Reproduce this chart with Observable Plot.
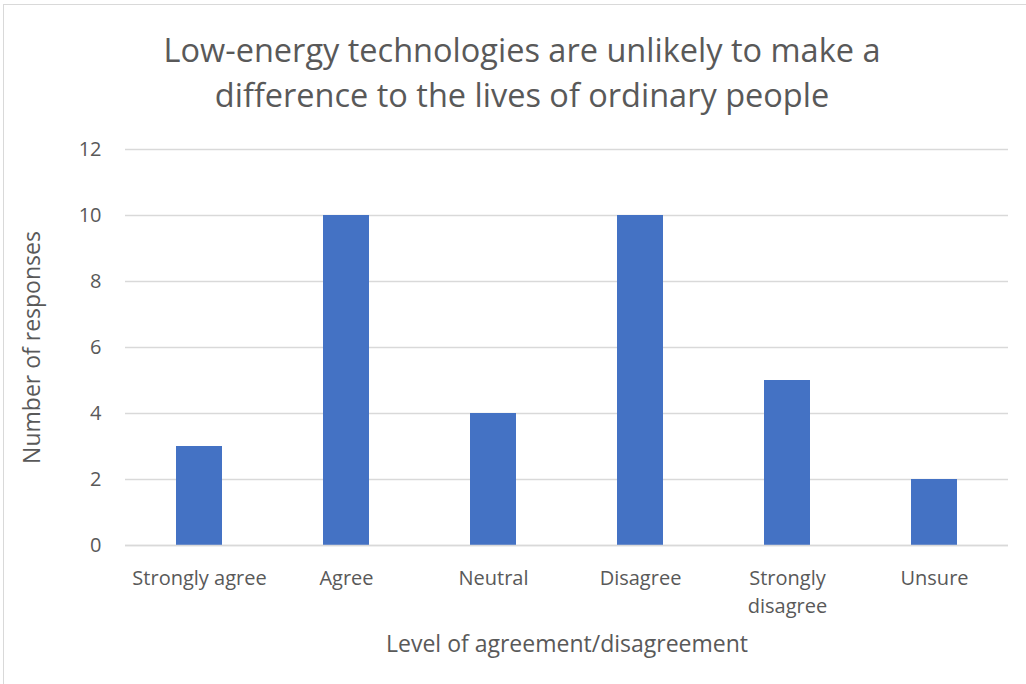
<!DOCTYPE html>
<html><head><meta charset="utf-8">
<script src="https://cdn.jsdelivr.net/npm/d3@7"></script>
<script src="https://cdn.jsdelivr.net/npm/@observablehq/plot@0.6"></script>
<style>
body{margin:0;background:#fff;font-family:"Open Sans",sans-serif;}
#wrap{position:relative;width:1026px;height:684px;overflow:hidden;}
#frame{position:absolute;left:3px;top:4px;width:1100px;height:800px;border:1.5px solid #d9d9d9;box-sizing:border-box;}
#title{position:absolute;left:0;width:1044px;top:27px;text-align:center;font-size:32.5px;line-height:45px;color:#595959;}
#chart{position:absolute;left:0;top:0;}
</style></head>
<body><div id="wrap"><div id="frame"></div><div id="chart"></div>
<div id="title">Low-energy technologies are unlikely to make a<br>difference to the lives of ordinary people</div></div>
<script>
const categories = ["Strongly agree","Agree","Neutral","Disagree","Strongly disagree","Unsure"];
const responses = [3,10,4,10,5,2];
const yTicks = [0,2,4,6,8,10,12];
const data = categories.map((c,i)=>({category:c, value:responses[i]}));
const chart = Plot.plot({
  width:1026, height:684,
  marginTop:149, marginBottom:139, marginLeft:125, marginRight:18,
  style:{fontFamily:"'Open Sans', sans-serif", fontSize:"20px", color:"#595959", background:"transparent"},
  x:{domain:categories, paddingInner:0.69, paddingOuter:0.345, label:null},
  y:{domain:[0,12], label:null},
  marks:[
    Plot.gridY(yTicks,{stroke:"#d9d9d9", strokeOpacity:1, strokeWidth:1.3}),
    Plot.barY(data,{x:"category", y:"value", fill:"#4472c4"}),
    Plot.ruleY([0],{stroke:"#d9d9d9", strokeWidth:1.3}),
    Plot.axisY(yTicks,{tickSize:0, tickPadding:24, label:null, fontSize:20}),
    Plot.axisX({tickSize:0, tickPadding:20, label:null, fontSize:20, lineHeight:1.4,
      tickFormat:d=>d==="Strongly disagree"?"Strongly\ndisagree":d}),
    Plot.text(["Number of responses"],{frameAnchor:"left", textAnchor:"middle", dx:-93, rotate:-90, fontSize:23, fill:"#595959"}),
    Plot.text(["Level of agreement/disagreement"],{frameAnchor:"bottom", lineAnchor:"middle", dy:99, fontSize:23, fill:"#595959"})
  ]
});
document.getElementById("chart").appendChild(chart);
</script></body></html>
